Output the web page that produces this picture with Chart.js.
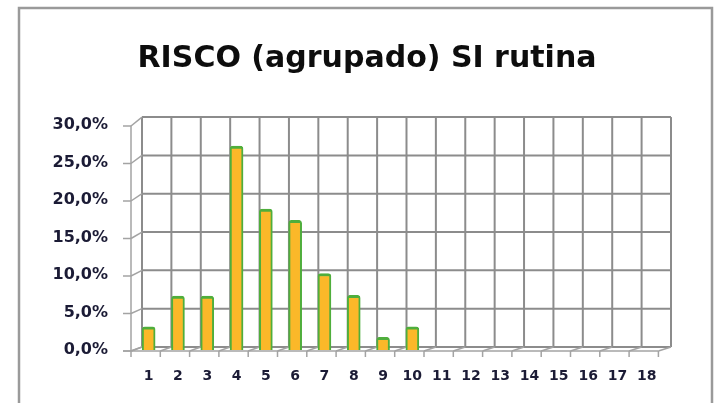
<!DOCTYPE html>
<html>
<head>
<meta charset="utf-8">
<script src="https://cdn.jsdelivr.net/npm/chart.js@4"></script>
<style>
  html, body { margin: 0; padding: 0; background: #fff; }
</style>
</head>
<body>
<canvas id="riscoChart" width="719" height="403"></canvas>
<script>
// dados
const categorias = ["1", "2", "3", "4", "5", "6", "7", "8", "9", "10", "11", "12", "13", "14", "15", "16", "17", "18"];
const riscoSI = [3.1, 7.2, 7.2, 27.2, 18.8, 17.3, 10.2, 7.3, 1.7, 3.1, null, null, null, null, null, null, null, null];
const yTicks = [0, 5, 10, 15, 20, 25, 30];

// grelha "3D" (parede de fundo, parede lateral e chao)
const moldura3d = {
  id: "moldura3d",
  beforeDraw(chart) {
    const ctx = chart.ctx;
    ctx.save();
    ctx.fillStyle = "#fff";
    ctx.fillRect(0, 0, chart.width, chart.height);
    ctx.strokeStyle = "#9a9a9a";
    ctx.lineWidth = 2.5;
    ctx.strokeRect(19, 8, 693, 430);
    ctx.restore();
  },
  beforeDatasetsDraw(chart) {
    const ctx = chart.ctx;
    const ca = chart.chartArea;
    const ys = chart.scales.y;
    const n = categorias.length;
    const catW = ca.width / n;
    const fx = px => px - 3, fy = py => py + 1;
    const bx = px => ca.left + 8 + (px - ca.left) * 1.003;
    const by = py => ca.bottom - 3 - (ca.bottom - py) * 1.022;
    const line = (x1, y1, x2, y2) => { ctx.beginPath(); ctx.moveTo(x1, y1); ctx.lineTo(x2, y2); ctx.stroke(); };

    ctx.save();
    // parede de fundo
    ctx.strokeStyle = "#8c8c8c";
    ctx.lineWidth = 2;
    yTicks.forEach(v => {
      const py = ys.getPixelForValue(v);
      line(bx(ca.left), by(py), bx(ca.right), by(py));
    });
    for (let i = 0; i <= n; i++) {
      const px = ca.left + i * catW;
      line(bx(px), by(ca.bottom), bx(px), by(ca.top));
    }
    // parede lateral e eixo vertical
    ctx.strokeStyle = "#a3a3a3";
    ctx.lineWidth = 1.5;
    line(fx(ca.left), fy(ca.bottom), fx(ca.left), fy(ca.top));
    yTicks.forEach(v => {
      const py = ys.getPixelForValue(v);
      line(fx(ca.left) - 8, fy(py), fx(ca.left), fy(py));
      line(fx(ca.left), fy(py), bx(ca.left), by(py));
    });
    // chao
    line(fx(ca.left) - 8, fy(ca.bottom), fx(ca.right), fy(ca.bottom));
    for (let i = 0; i <= n; i++) {
      const px = ca.left + i * catW;
      line(fx(px), fy(ca.bottom), bx(px), by(ca.bottom));
      line(fx(px), fy(ca.bottom), fx(px), fy(ca.bottom) + 6);
    }
    ctx.restore();
  }
};

const ctx = document.getElementById("riscoChart").getContext("2d");
const riscoChart = new Chart(ctx, {
  type: "bar",
  data: {
    labels: categorias,
    datasets: [
      {
        label: "RISCO (agrupado) SI rutina",
        data: riscoSI,
        backgroundColor: "#fbb829",
        borderColor: "#4fae3c",
        borderWidth: { left: 2, right: 2, top: 3, bottom: 0 },
        borderRadius: { topLeft: 3, topRight: 3 },
        borderSkipped: "bottom",
        barThickness: 13,
      },
    ],
  },
  options: {
    responsive: false,
    animation: false,
    devicePixelRatio: 1,
    layout: { padding: { left: 15, right: 0, top: 0, bottom: 0 } },
    plugins: {
      legend: { display: false },
      tooltip: { enabled: false },
      title: {
        display: true,
        text: "RISCO (agrupado) SI rutina",
        color: "#0d0d0d",
        font: { family: "DejaVu Sans", size: 30, weight: "bold" },
        padding: { top: 41, bottom: 48 },
      },
    },
    scales: {
      x: {
        grid: { display: false, drawTicks: false },
        border: { display: false },
        ticks: {
          color: "#1b1b35",
          font: { family: "DejaVu Sans", size: 14, weight: "bold" },
          padding: 18,
          maxRotation: 0,
          autoSkip: false,
        },
        afterFit(scale) { scale.height = 53; },
      },
      y: {
        min: 0,
        max: 30,
        grid: { display: false, drawTicks: false },
        border: { display: false },
        ticks: {
          stepSize: 5,
          color: "#1b1b35",
          font: { family: "DejaVu Sans", size: 16, weight: "bold" },
          padding: 26,
          callback: v => v.toFixed(1).replace(".", ",") + "%",
        },
        afterFit(scale) { scale.width = 119; },
      },
      // eixo vazio so para reservar a margem direita
      y2: {
        position: "right",
        grid: { display: false, drawTicks: false },
        border: { display: false },
        ticks: { display: false },
        afterFit(scale) { scale.width = 57.6; },
      },
    },
  },
  plugins: [moldura3d],
});
</script>
</body>
</html>
